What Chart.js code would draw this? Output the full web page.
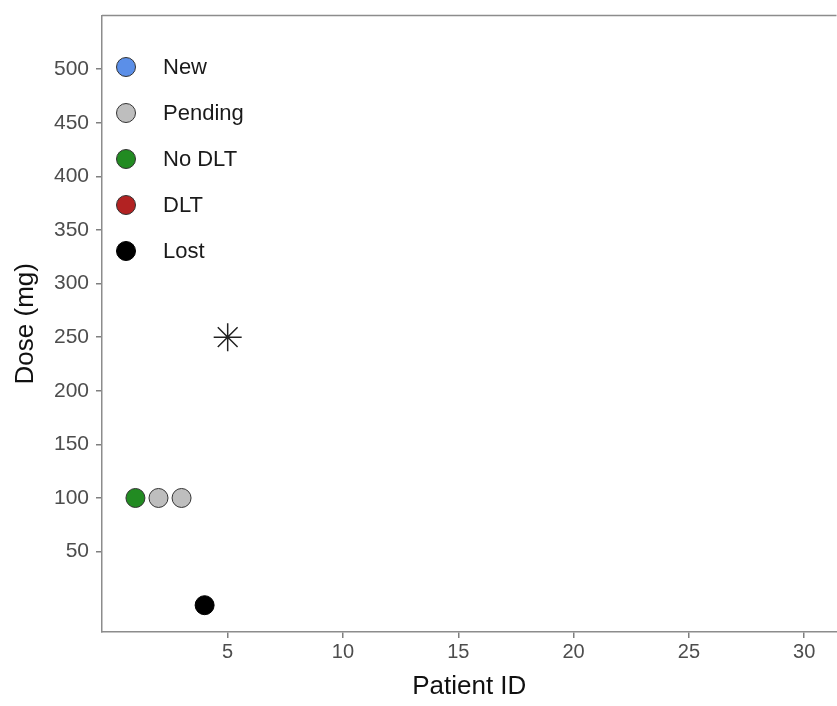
<!DOCTYPE html>
<html lang="en">
<head>
    <meta charset="UTF-8">
    <title>Dose by patient</title>
    <script src="https://cdn.jsdelivr.net/npm/chart.js"></script>
    <style>
        html, body { margin: 0; padding: 0; background: #fff; overflow: hidden; }
        .wrap { position: relative; width: 837px; height: 706px; overflow: hidden; }
        #grafico { display: block; }
        .legenda { position: absolute; left: 116px; top: 44px; font-family: "Liberation Sans", Arial, sans-serif; font-size: 22px; color: #1a1a1a; }
        .legenda .item { display: flex; align-items: center; height: 46px; }
        .legenda .bola { width: 20px; height: 20px; border-radius: 50%; border: 1px solid #333; box-sizing: border-box; margin-right: 27px; }
    </style>
</head>
<body>
<div class="wrap">
    <canvas id="grafico" width="852" height="706"></canvas>
    <div class="legenda" id="legenda"></div>
</div>

<script>
    // dados por status
    const statusNomes = ['New', 'Pending', 'No DLT', 'DLT', 'Lost'];
    const statusCores = ['#5b8fe8', '#bebebe', '#228b22', '#b22222', '#000000'];

    const newX = [];
    const newY = [];
    const pendingX = [2, 3];
    const pendingY = [100, 100];
    const noDltX = [1];
    const noDltY = [100];
    const dltX = [];
    const dltY = [];
    const lostX = [4];
    const lostY = [0];

    // proximo paciente (asterisco)
    const proximoX = [5];
    const proximoY = [250];

    const xTicks = [5, 10, 15, 20, 25, 30];
    const yTicks = [50, 100, 150, 200, 250, 300, 350, 400, 450, 500];

    function pares(xs, ys) {
        return xs.map((x, i) => ({ x: x, y: ys[i] }));
    }

    const grupos = [pares(newX, newY), pares(pendingX, pendingY), pares(noDltX, noDltY), pares(dltX, dltY), pares(lostX, lostY)];

    const datasets = grupos.map((pts, i) => ({
        label: statusNomes[i],
        data: pts,
        backgroundColor: statusCores[i],
        borderColor: i == 4 ? '#000' : '#333',
        borderWidth: 1,
        pointRadius: 9.5,
        pointHoverRadius: 9.5
    }));
    datasets.push({
        label: 'next',
        data: pares(proximoX, proximoY),
        pointStyle: 'star',
        pointRadius: 14,
        borderColor: '#222',
        borderWidth: 1.5,
        backgroundColor: '#222'
    });

    // legenda em html dentro da area do grafico
    const legenda = document.getElementById('legenda');
    statusNomes.forEach((nome, i) => {
        const item = document.createElement('div');
        item.className = 'item';
        const bola = document.createElement('span');
        bola.className = 'bola';
        bola.style.background = statusCores[i];
        if (i == 4) bola.style.borderColor = '#000';
        const txt = document.createElement('span');
        txt.textContent = nome;
        item.appendChild(bola);
        item.appendChild(txt);
        legenda.appendChild(item);
    });

    const molduraTopo = {
        id: 'molduraTopo',
        afterDraw(chart) {
            const a = chart.chartArea;
            const ctx = chart.ctx;
            ctx.save();
            ctx.strokeStyle = '#8c8c8c';
            ctx.lineWidth = 1.5;
            ctx.beginPath();
            ctx.moveTo(a.left, a.top);
            ctx.lineTo(a.right, a.top);
            ctx.stroke();
            ctx.restore();
        }
    };

    const fonte = "'Liberation Sans', Arial, sans-serif";

    new Chart(document.getElementById('grafico').getContext('2d'), {
        type: 'scatter',
        data: { datasets: datasets },
        plugins: [molduraTopo],
        options: {
            responsive: false,
            animation: false,
            layout: { padding: { top: 13, right: 0, left: 0, bottom: 0 } },
            plugins: {
                legend: { display: false },
                tooltip: { enabled: false }
            },
            scales: {
                x: {
                    type: 'linear',
                    min: -0.45,
                    max: 31.4,
                    afterBuildTicks: (s) => { s.ticks = xTicks.map(v => ({ value: v })); },
                    afterFit: (s) => { s.height = 74; s.paddingRight = 0; s.paddingLeft = 0; },
                    grid: { drawOnChartArea: false, color: '#7f7f7f', tickLength: 6, lineWidth: 1.5 },
                    border: { color: '#8c8c8c', width: 1.5 },
                    ticks: { color: '#4d4d4d', font: { family: fonte, size: 20 }, padding: 2, maxRotation: 0 },
                    title: { display: true, text: 'Patient ID', color: '#111', font: { family: fonte, size: 26 }, padding: { top: 5 } }
                },
                y: {
                    type: 'linear',
                    min: -25,
                    max: 550,
                    afterBuildTicks: (s) => { s.ticks = yTicks.map(v => ({ value: v })); },
                    afterFit: (s) => { s.width = 102; s.paddingTop = 0; s.paddingBottom = 0; },
                    grid: { drawOnChartArea: false, color: '#7f7f7f', tickLength: 6, lineWidth: 1.5 },
                    border: { color: '#8c8c8c', width: 1.5 },
                    ticks: { color: '#4d4d4d', font: { family: fonte, size: 21 }, padding: 7 },
                    title: { display: true, text: 'Dose (mg)', color: '#111', font: { family: fonte, size: 26 }, padding: { top: 10 } }
                }
            }
        }
    });
</script>
</body>
</html>
